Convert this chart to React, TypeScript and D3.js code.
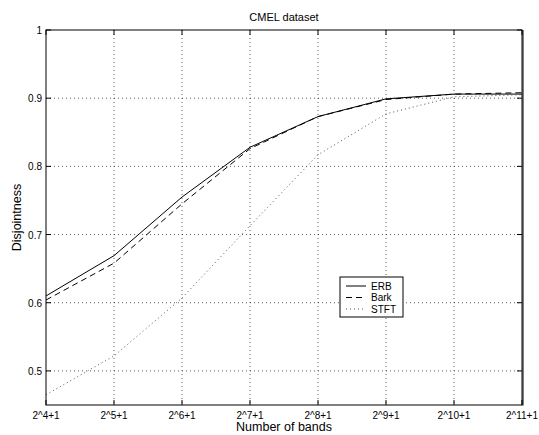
import React, { useEffect, useRef } from "react";
import * as d3 from "d3";

const bandLabels = ["2^4+1", "2^5+1", "2^6+1", "2^7+1", "2^8+1", "2^9+1", "2^10+1", "2^11+1"];
const erbValues = [0.61, 0.669, 0.755, 0.828, 0.873, 0.899, 0.906, 0.906];
const barkValues = [0.604, 0.658, 0.745, 0.826, 0.873, 0.898, 0.906, 0.908];
const stftValues = [0.465, 0.522, 0.607, 0.713, 0.817, 0.877, 0.902, 0.905];
const yTicks = [0.5, 0.6, 0.7, 0.8, 0.9, 1];

const seriesList = [
  { name: "ERB", values: erbValues, dash: "none", color: "#000" },
  { name: "Bark", values: barkValues, dash: "6,4", color: "#000" },
  { name: "STFT", values: stftValues, dash: "1,3", color: "#555" },
];

const App = () => {
  const ref = useRef<SVGSVGElement>(null);

  useEffect(() => {
    const width = 539, height = 435;
    const m = { left: 46, right: 17, top: 30, bottom: 30 };
    const svg = d3.select(ref.current);
    svg.selectAll("*").remove();
    const font = "'Liberation Sans', Arial, sans-serif";

    const x = d3.scalePoint<string>().domain(bandLabels).range([m.left, width - m.right]);
    const y = d3.scaleLinear().domain([0.45, 1]).range([height - m.bottom, m.top]);

    svg.append("rect").attr("width", width).attr("height", height).attr("fill", "#fff");

    // grid
    const grid = svg.append("g").attr("stroke", "#333").attr("stroke-width", 0.8).attr("stroke-dasharray", "1,3");
    bandLabels.slice(1, -1).forEach((b) => {
      grid.append("line").attr("x1", x(b)!).attr("x2", x(b)!).attr("y1", y(1)).attr("y2", y(0.45));
    });
    yTicks.slice(0, -1).forEach((t) => {
      grid.append("line").attr("x1", m.left).attr("x2", width - m.right).attr("y1", y(t)).attr("y2", y(t));
    });

    // lines
    const line = d3.line<number>().x((_, i) => x(bandLabels[i])!).y((d) => y(d));
    seriesList.forEach((s) => {
      svg.append("path").datum(s.values).attr("d", line).attr("fill", "none")
        .attr("stroke", s.color).attr("stroke-width", 1).attr("stroke-dasharray", s.dash);
    });

    // frame and inward ticks
    const frame = svg.append("g").attr("stroke", "#000").attr("stroke-width", 1);
    frame.append("rect").attr("x", m.left).attr("y", m.top)
      .attr("width", width - m.left - m.right).attr("height", height - m.top - m.bottom).attr("fill", "none");
    frame.append("line").attr("x1", width - m.right + 1).attr("x2", width - m.right + 1)
      .attr("y1", m.top).attr("y2", height - m.bottom + 0.5);
    const tl = 5;
    bandLabels.forEach((b) => {
      frame.append("line").attr("x1", x(b)!).attr("x2", x(b)!).attr("y1", y(0.45)).attr("y2", y(0.45) - tl);
      frame.append("line").attr("x1", x(b)!).attr("x2", x(b)!).attr("y1", y(1)).attr("y2", y(1) + tl);
    });
    yTicks.forEach((t) => {
      frame.append("line").attr("x1", m.left).attr("x2", m.left + tl).attr("y1", y(t)).attr("y2", y(t));
      frame.append("line").attr("x1", width - m.right).attr("x2", width - m.right - tl).attr("y1", y(t)).attr("y2", y(t));
    });

    // tick labels
    bandLabels.forEach((b) => {
      svg.append("text").attr("x", x(b)!).attr("y", y(0.45) + 14).attr("text-anchor", "middle")
        .attr("font-family", font).attr("font-size", 10).text(b);
    });
    yTicks.forEach((t) => {
      svg.append("text").attr("x", m.left - 4).attr("y", y(t) + 4).attr("text-anchor", "end")
        .attr("font-family", font).attr("font-size", 10).text(String(t));
    });

    // titles
    svg.append("text").attr("x", (m.left + width - m.right) / 2).attr("y", 21).attr("text-anchor", "middle")
      .attr("font-family", font).attr("font-size", 11).text("CMEL dataset");
    svg.append("text").attr("x", (m.left + width - m.right) / 2).attr("y", 431).attr("text-anchor", "middle")
      .attr("font-family", font).attr("font-size", 12.5).text("Number of bands");
    svg.append("text").attr("transform", `translate(21,${(m.top + height - m.bottom) / 2}) rotate(-90)`)
      .attr("text-anchor", "middle").attr("font-family", font).attr("font-size", 12.5).text("Disjointness");

    // legend
    const lg = svg.append("g").attr("transform", "translate(340,277)");
    lg.append("rect").attr("width", 63).attr("height", 40).attr("fill", "#fff").attr("stroke", "#000").attr("stroke-width", 1);
    seriesList.forEach((s, i) => {
      const ly = 9 + i * 11.5;
      lg.append("line").attr("x1", 6).attr("x2", 26).attr("y1", ly).attr("y2", ly)
        .attr("stroke", s.color).attr("stroke-width", 1).attr("stroke-dasharray", s.dash);
      lg.append("text").attr("x", 31).attr("y", ly + 3.5).attr("font-family", font).attr("font-size", 10).text(s.name);
    });
  }, []);

  return <svg ref={ref} width={539} height={435} style={{ position: "absolute", left: 0, top: 0 }} />;
};

export default App;
